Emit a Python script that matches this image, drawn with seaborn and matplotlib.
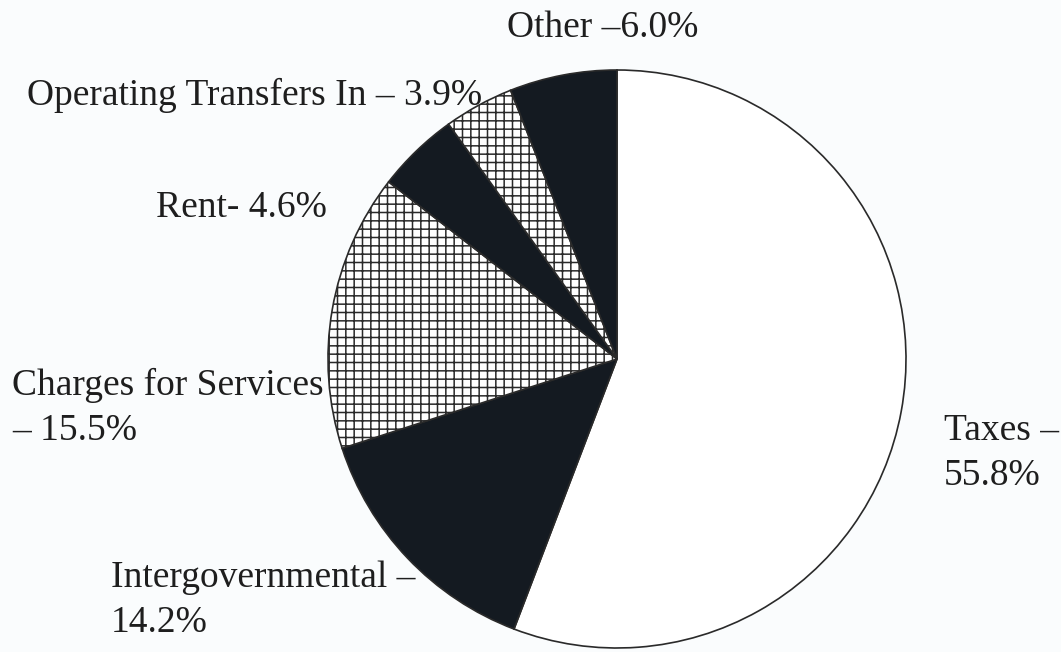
import matplotlib
matplotlib.use("Agg")
import matplotlib.pyplot as plt
import seaborn as sns

# Revenue sources, share of total (%)
categories = ["Taxes", "Intergovernmental", "Charges for Services",
              "Rent", "Operating Transfers In", "Other"]
shares = [55.8, 14.2, 15.5, 4.6, 3.9, 6.0]

# Label text, one entry per line
label_lines = [
    ["Taxes \u2013", "55.8%"],
    ["Intergovernmental \u2013", "14.2%"],
    ["Charges for Services", "\u2013 15.5%"],
    ["Rent- 4.6%"],
    ["Operating Transfers In \u2013 3.9%"],
    ["Other \u20136.0%"],
]

sns.set_theme(style="white")
plt.rcParams["font.family"] = ["Liberation Serif", "DejaVu Serif"]
plt.rcParams["hatch.linewidth"] = 1.1

W, H, DPI = 1061, 652, 100
bg = "#fafcfd"
fig = plt.figure(figsize=(W / DPI, H / DPI), dpi=DPI, facecolor=bg)
ax = fig.add_axes([0, 0, 1, 1])
ax.set_facecolor(bg)

dark = "#141a21"
fills = ["white", dark, "white", dark, "white", dark]
hatches = [None, None, "++", None, "++", None]

# y axis points down, so counter-clockwise in data space runs clockwise on screen
wedges, _ = ax.pie(shares, center=(617, 359), radius=289,
                   startangle=-90, counterclock=True, colors=fills,
                   wedgeprops=dict(edgecolor="#2a2a2a", linewidth=1.2),
                   frame=True)
ax.set_xlim(0, W)
ax.set_ylim(H, 0)
ax.set_aspect("equal")
ax.axis("off")
for w, h in zip(wedges, hatches):
    if h:
        w.set_hatch(h)

# Label anchors: left x and first-line baseline y
label_pos = [(944, 440), (111, 587), (12, 395), (156, 217), (27, 105), (507, 37)]
line_gap = 45
for lines, (x, y) in zip(label_lines, label_pos):
    for i, line in enumerate(lines):
        ax.text(x, y + i * line_gap, line, fontsize=27, color="#1e1e1e",
                ha="left", va="baseline")

fig.savefig("out.png", dpi=DPI, facecolor=bg)
